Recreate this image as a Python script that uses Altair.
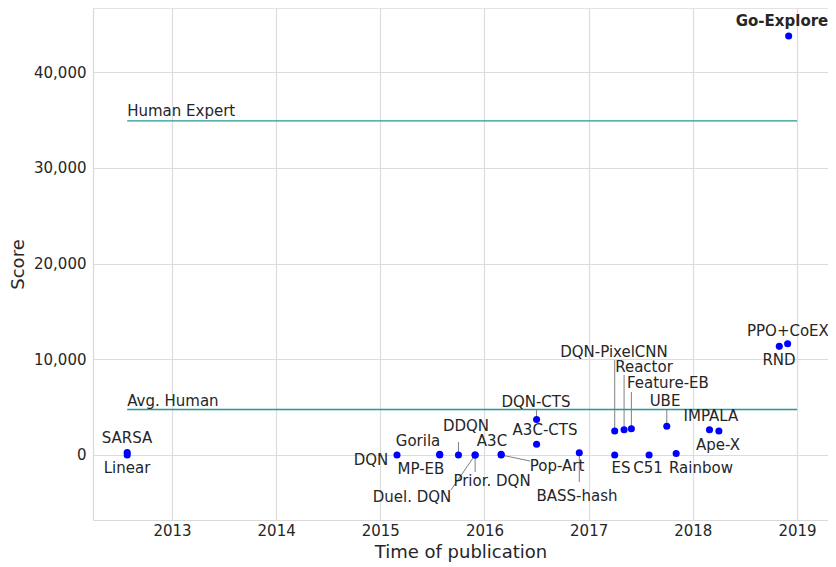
import altair as alt
import pandas as pd

# ---- data ----
names = ["SARSA", "Linear", "DQN", "Gorila", "MP-EB", "DDQN", "Duel. DQN",
         "Prior. DQN", "A3C", "Pop-Art", "DQN-CTS", "A3C-CTS", "BASS-hash",
         "DQN-PixelCNN", "ES", "Reactor", "Feature-EB", "C51", "UBE", "Rainbow",
         "IMPALA", "Ape-X", "RND", "PPO+CoEX", "Go-Explore"]
pub_year = [2012.57, 2012.57, 2015.16, 2015.57, 2015.57, 2015.75, 2015.91,
            2015.91, 2016.16, 2016.16, 2016.50, 2016.50, 2016.91,
            2017.25, 2017.25, 2017.34, 2017.41, 2017.58, 2017.75, 2017.84,
            2018.16, 2018.25, 2018.83, 2018.91, 2018.92]
score = [259, 11, 0, 84, 0, 0, 0,
         0, 67, 0, 3705, 1127, 238,
         2514, 0, 2643, 2745, 0, 3000, 154,
         2643, 2500, 11347, 11618, 43763]
# label anchor (centre of text) in data units
label_x = [2012.568, 2012.568, 2014.910, 2015.362, 2015.390, 2015.822, 2015.304,
           2016.072, 2016.072, 2016.696, 2016.494, 2016.581, 2016.888,
           2017.243, 2017.310, 2017.531, 2017.761, 2017.569, 2017.733, 2018.078,
           2018.174, 2018.241, 2018.827, 2018.913, 2018.856]
label_y = [1775, -1358, -522, 1462, -1462, 3029, -4386,
           -2715, 1462, -1149, 5535, 2611, -4282,
           10757, -1358, 9191, 7520, -1358, 5640, -1358,
           4073, 1044, 9922, 12951, 45327]
# leader line end points (None = no leader line)
leader_x = [None, None, None, None, None, 2015.75, 2015.678,
            2015.91, None, 2016.437, 2016.50, None, 2016.91,
            2017.25, None, 2017.34, 2017.41, None, 2017.75, None,
            None, None, None, None, None]
leader_y = [None, None, None, None, None, 1358, -3655,
            -1776, None, -627, 4700, None, -2820,
            9922, None, 8355, 6580, None, 4700, None,
            None, None, None, None, None]

human_names = ["Human Expert", "Avg. Human"]
human_scores = [34900, 4753]
human_start = [2012.57, 2012.57]
human_end = [2019.0, 2019.0]
human_label_y = [35927, 5640]

year_ticks = [2013, 2014, 2015, 2016, 2017, 2018, 2019]
score_ticks = [0, 10000, 20000, 30000, 40000]
x_domain = [2012.2416, 2019.2976]
y_domain = [-6789, 46685]

W, H = 735, 512
FONT = "DejaVu Sans"
TXT = "#262626"

df = pd.DataFrame({"name": names, "x": pub_year, "y": score,
                   "lx": label_x, "ly": label_y,
                   "ex": leader_x, "ey": leader_y})
lead = df.dropna(subset=["ex"])
hum = pd.DataFrame({"name": human_names, "y": human_scores,
                    "x": human_start, "x2": human_end, "ly": human_label_y})

xs = alt.Scale(domain=x_domain, nice=False, zero=False)
ys = alt.Scale(domain=y_domain, nice=False, zero=False)

xax = alt.Axis(values=year_ticks, format="d", title="Time of publication",
               grid=True, ticks=False, labelPadding=3, titlePadding=5)
yax = alt.Axis(values=score_ticks, format=",.0f", title="Score",
               grid=True, ticks=False, labelPadding=7, titlePadding=6)

base = alt.Chart(df)

points = base.mark_circle(size=50, color="#0000ff", opacity=1).encode(
    x=alt.X("x:Q", scale=xs, axis=xax),
    y=alt.Y("y:Q", scale=ys, axis=yax),
)

leaders = alt.Chart(lead).mark_rule(color="#808080", strokeWidth=1).encode(
    x=alt.X("x:Q", scale=xs), y=alt.Y("y:Q", scale=ys),
    x2="ex:Q", y2="ey:Q",
)

labels = base.transform_filter(alt.datum.name != "Go-Explore").mark_text(
    font=FONT, fontSize=15, color=TXT, align="center", baseline="middle"
).encode(x=alt.X("lx:Q", scale=xs), y=alt.Y("ly:Q", scale=ys), text="name:N")

bold_label = base.transform_filter(alt.datum.name == "Go-Explore").mark_text(
    font=FONT, fontSize=15, color=TXT, align="center", baseline="middle",
    fontWeight="bold"
).encode(x=alt.X("lx:Q", scale=xs), y=alt.Y("ly:Q", scale=ys), text="name:N")

hlines = alt.Chart(hum).mark_rule(color="#1f9a96", strokeWidth=1.3).encode(
    x=alt.X("x:Q", scale=xs), x2="x2:Q", y=alt.Y("y:Q", scale=ys)
)
hlabels = alt.Chart(hum).mark_text(
    font=FONT, fontSize=15, color=TXT, align="left", baseline="middle"
).encode(x=alt.X("x:Q", scale=xs), y=alt.Y("ly:Q", scale=ys), text="name:N")

top_border = alt.Chart(hum).mark_rule(color="#d9d9d9", strokeWidth=1).encode(
    x=alt.value(0), x2=alt.value(W), y=alt.value(0)
)

chart = alt.layer(
    top_border, hlines, hlabels, leaders, points, labels, bold_label
).properties(
    width=W, height=H,
    autosize=alt.AutoSizeParams(type="none"),
    padding={"left": 85, "top": 0, "right": 0, "bottom": 45},
).configure_view(
    stroke=None
).configure_axis(
    labelFont=FONT, titleFont=FONT, labelFontSize=15, titleFontSize=18,
    labelColor=TXT, titleColor=TXT, titleFontWeight="normal",
    gridColor="#dcdcdc", gridWidth=1.2, domainColor="#d9d9d9", domainWidth=1.2,
).configure_axisX(labelBaseline="top")

chart.save("out.html", embed_options={"renderer": "svg", "actions": False})
